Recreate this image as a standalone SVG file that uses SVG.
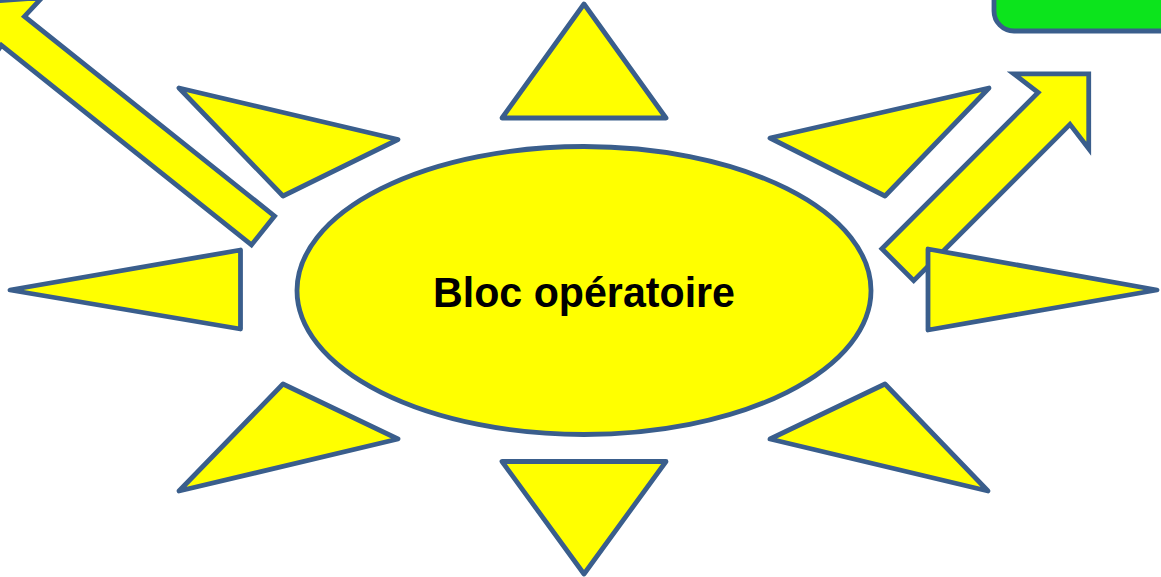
<svg xmlns="http://www.w3.org/2000/svg" width="1161" height="577" viewBox="0 0 1161 577">
  <style>
    .sh { fill: #FFFF00; stroke: #3A5E8C; stroke-width: 4.8; }
    .tri { stroke-linejoin: round; }
    .arr { stroke-linejoin: miter; stroke-miterlimit: 10; }
    .lbl { font-family: "Liberation Sans", Arial, sans-serif; font-weight: bold; font-size: 43px; fill: #000000; }
  </style>
  <rect width="1161" height="577" fill="#FFFFFF"/>
  <g id="green-box">
    <rect x="994" y="-40" width="220" height="71" rx="20" ry="20" fill="#0CE41C" stroke="#3A5E8C" stroke-width="4.8"/>
  </g>
  <g id="connectors">
    <polygon id="arrow-top-left" class="sh arr" transform="translate(263,230.5) rotate(218.6)" points="0,-18.5 320,-18.5 318,-44 366,0 318,44 320,18.5 0,18.5"/>
    <polygon id="arrow-top-right" class="sh arr" transform="translate(897.8,264.7) rotate(-45)" points="0,-22.5 221,-22.5 217,-53 270,0 217,53 221,22.5 0,22.5"/>
  </g>
  <g id="ray-top"><polygon class="sh tri" points="584,4 666,118 502,118"/></g>
  <g id="ray-bottom"><polygon class="sh tri" points="502,461.5 666,461.5 584,574"/></g>
  <g id="ray-left"><polygon class="sh tri" points="10,290 240.5,250 240.5,329"/></g>
  <g id="ray-right"><polygon class="sh tri" points="928,249 1157,290 928,330"/></g>
  <g id="ray-upper-left"><polygon class="sh tri" points="179,88 398,139.5 283,196"/></g>
  <g id="ray-upper-right"><polygon class="sh tri" points="770,138 989,88 885,196"/></g>
  <g id="ray-lower-left"><polygon class="sh tri" points="283,384 398,439 179,491"/></g>
  <g id="ray-lower-right"><polygon class="sh tri" points="770,439 885,384 988,491"/></g>
  <g id="bloc-operatoire">
    <ellipse class="sh" cx="584" cy="290.5" rx="287" ry="144"/>
    <text class="lbl" x="584" y="306.5" text-anchor="middle" textLength="302" lengthAdjust="spacingAndGlyphs">Bloc opératoire</text>
  </g>
</svg>
